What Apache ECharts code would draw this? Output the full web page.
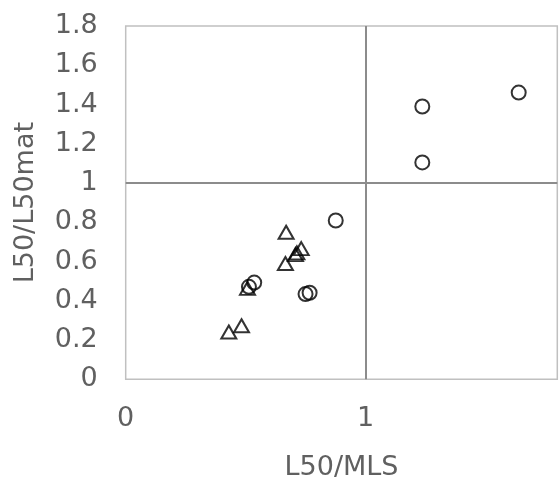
<!DOCTYPE html>
<html>
<head>
<meta charset="utf-8">
<script src="https://cdn.jsdelivr.net/npm/echarts@6/dist/echarts.min.js"></script>
<style>html,body{margin:0;padding:0;background:#fff}#c{width:559px;height:483px}</style>
</head>
<body>
<div id="c"></div>
<script>
// Circle series (L50/MLS, L50/L50mat)
const circleX = [1.639, 1.237, 1.237, 0.876, 0.536, 0.514, 0.767, 0.750];
const circleY = [1.461, 1.390, 1.105, 0.809, 0.493, 0.471, 0.441, 0.434];
// Triangle series
const triX = [0.669, 0.732, 0.714, 0.708, 0.666, 0.508, 0.483, 0.430];
const triY = [0.749, 0.666, 0.644, 0.635, 0.590, 0.463, 0.273, 0.241];
const xTicks = [0, 1];
const yTicks = [0, 0.2, 0.4, 0.6, 0.8, 1, 1.2, 1.4, 1.6, 1.8];
const refX = 1, refY = 1;

const font = 'DejaVu Sans';
const txt = '#606060';
const chart = echarts.init(document.getElementById('c'), null, {renderer: 'canvas'});
chart.setOption({
  animation: false,
  backgroundColor: '#fff',
  grid: {left: 125.7, right: 1.7, top: 26, bottom: 103.7, show: true, borderColor: '#c0c0c0', borderWidth: 1.5,
         containLabel: false, outerBoundsMode: 'none'},
  xAxis: {
    type: 'value', min: 0, max: 1.8, interval: 1,
    name: 'L50/MLS', nameLocation: 'middle', nameGap: 75,
    nameTextStyle: {fontFamily: font, fontSize: 27, color: txt},
    axisLine: {show: false}, axisTick: {show: false}, splitLine: {show: false},
    axisLabel: {showMaxLabel: false, margin: 26, fontFamily: font, fontSize: 27, color: txt,
      formatter: v => xTicks.includes(v) ? String(v) : ''}
  },
  yAxis: {
    type: 'value', min: 0, max: 1.8, interval: 0.2,
    name: 'L50/L50mat', nameLocation: 'middle', nameGap: 86,
    nameTextStyle: {fontFamily: font, fontSize: 27, color: txt},
    axisLine: {show: false}, axisTick: {show: false}, splitLine: {show: false},
    axisLabel: {margin: 28, fontFamily: font, fontSize: 27, color: txt,
      formatter: v => { const t = yTicks.find(a => Math.abs(a - v) < 1e-6); return t === undefined ? '' : String(t); }}
  },
  series: [
    {
      type: 'scatter', symbol: 'circle', symbolSize: 14,
      itemStyle: {color: 'rgba(0,0,0,0)', borderColor: '#000', borderWidth: 2},
      data: circleX.map((x, i) => [x, circleY[i]]),
      markLine: {
        silent: true, symbol: 'none', label: {show: false},
        lineStyle: {color: '#8c8c8c', width: 2, type: 'solid'},
        data: [{xAxis: refX}, {yAxis: refY}]
      }
    },
    {
      type: 'scatter', symbol: 'triangle', symbolSize: [15, 13],
      itemStyle: {color: 'rgba(0,0,0,0)', borderColor: '#000', borderWidth: 2},
      data: triX.map((x, i) => [x, triY[i]])
    }
  ]
});
</script>
</body>
</html>
